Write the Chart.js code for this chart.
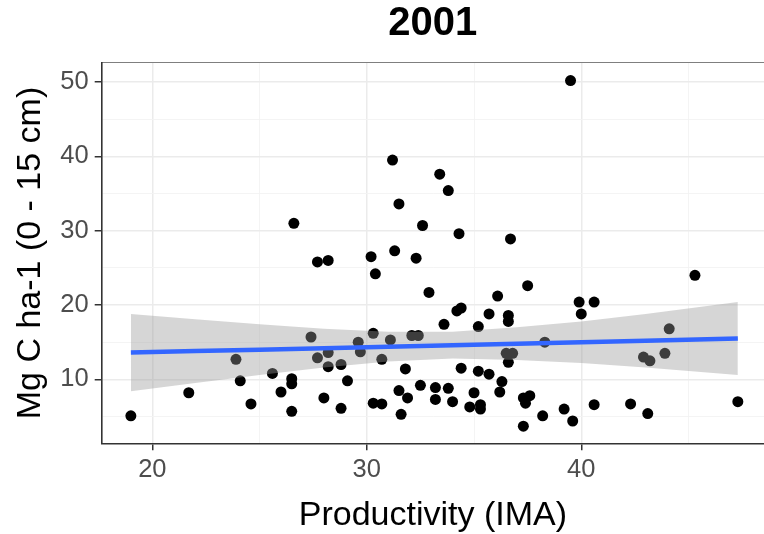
<!DOCTYPE html>
<html>
<head>
<meta charset="utf-8">
<script src="https://cdn.jsdelivr.net/npm/chart.js@4/dist/chart.umd.min.js"></script>
<style>
  html, body { margin: 0; padding: 0; background: #ffffff; }
  #wrap { width: 764px; height: 534px; }
</style>
</head>
<body>
<div id="wrap"><canvas id="chart" width="764" height="534"></canvas></div>
<script>
// Plots: productivity (IMA) vs soil carbon stock, 0-15 cm, year 2001
const productivity = [
  19.0, 21.7, 23.9, 24.1, 24.6, 25.6, 26.0, 26.5, 26.5, 26.5,
  26.6, 27.4, 27.7, 27.7, 28.0, 28.2, 28.2, 28.2, 28.8, 28.8,
  29.1, 29.6, 29.7, 30.2, 30.3, 30.3, 30.4, 30.7, 30.7, 31.1,
  31.2, 31.3, 31.5, 31.5, 31.6, 31.8, 31.9, 32.1, 32.3, 32.4,
  32.5, 32.6, 32.9, 33.2, 33.2, 33.4, 33.6, 33.8, 33.8, 34.0,
  34.2, 34.3, 34.4, 34.4, 34.8, 35.0, 35.2, 35.2, 35.3, 35.3,
  35.7, 35.7, 36.1, 36.2, 36.3, 36.5, 36.6, 36.6, 36.6, 36.7,
  36.8, 37.3, 37.3, 37.4, 37.5, 37.6, 38.2, 38.3, 39.2, 39.5,
  39.6, 39.9, 40.0, 40.6, 40.6, 42.3, 42.9, 43.1, 43.2, 43.9,
  44.1, 45.3, 47.3
];
const carbon = [
  5.1, 8.2, 12.7, 9.8, 6.7, 10.8, 8.3, 10.1, 9.4, 5.7,
  31.0, 15.7, 12.9, 25.8, 7.5, 26.0, 13.6, 11.7, 12.0, 6.1,
  9.8, 15.0, 13.7, 26.5, 16.2, 6.8, 24.2, 12.7, 6.7, 15.3,
  39.5, 27.3, 33.6, 8.5, 5.3, 11.4, 7.5, 15.9, 26.3, 15.9,
  9.2, 30.7, 21.7, 8.9, 7.3, 37.6, 17.4, 35.4, 8.8, 7.0,
  19.2, 29.6, 19.6, 11.5, 6.3, 8.2, 17.1, 11.1, 6.6, 6.0,
  18.8, 10.7, 21.2, 8.3, 9.7, 13.5, 18.6, 17.8, 12.3, 28.9,
  13.5, 7.5, 3.7, 6.8, 22.6, 7.8, 5.1, 15.0, 6.0, 50.2,
  4.4, 20.4, 18.8, 20.4, 6.6, 6.7, 13.0, 5.4, 12.5, 13.5,
  16.8, 24.0, 7.0
];

// Linear fit and its confidence band
const fitX      = [19.0, 22.0, 25.0, 28.0, 31.0, 34.0, 37.0, 40.0, 43.0, 47.3];
const fitY      = [13.6, 13.8, 14.0, 14.2, 14.4, 14.6, 14.8, 15.0, 15.2, 15.5];
const bandHigh  = [18.8, 18.1, 17.4, 16.8, 16.4, 16.4, 17.0, 17.8, 18.8, 20.4];
const bandLow   = [8.4, 9.5, 10.6, 11.6, 12.4, 12.8, 12.6, 12.2, 11.6, 10.6];

// Gridline positions (labels only on the major ones)
const xGrid = [20, 25, 30, 35, 40, 45];
const yGrid = [5, 10, 15, 20, 25, 30, 35, 40, 45, 50];

const FONT = "'Liberation Sans', Arial, sans-serif";
const isMajor = v => v % 10 === 0;
const pairs = (xs, ys) => xs.map((x, i) => ({ x: x, y: ys[i] }));

const gridStyle = {
  color: c => (c.tick && isMajor(c.tick.value)) ? '#ebebeb' : '#f3f3f3',
  lineWidth: c => (c.tick && isMajor(c.tick.value)) ? 1.5 : 0.9,
  tickColor: c => (c.tick && isMajor(c.tick.value)) ? '#333333' : 'rgba(0,0,0,0)',
  tickWidth: 1.5,
  tickLength: 7
};

// keep the plot panel flush with the canvas edges
const noSidePadding = s => { s.paddingLeft = 0; s.paddingRight = 0; };

new Chart(document.getElementById('chart'), {
  type: 'scatter',
  data: {
    datasets: [
      {
        label: 'fit',
        data: pairs(fitX, fitY),
        showLine: true,
        borderColor: '#3366FF',
        borderWidth: 4.5,
        pointRadius: 0,
        fill: false,
        order: 1
      },
      {
        label: 'band high',
        data: pairs(fitX, bandHigh),
        showLine: true,
        borderWidth: 0,
        borderColor: 'rgba(0,0,0,0)',
        pointRadius: 0,
        backgroundColor: 'rgba(153,153,153,0.4)',
        fill: '+1',
        order: 2
      },
      {
        label: 'band low',
        data: pairs(fitX, bandLow),
        showLine: true,
        borderWidth: 0,
        borderColor: 'rgba(0,0,0,0)',
        pointRadius: 0,
        fill: false,
        order: 2
      },
      {
        label: 'plots',
        data: pairs(productivity, carbon),
        pointRadius: 5.5,
        pointBackgroundColor: '#000000',
        pointBorderWidth: 0,
        pointBorderColor: '#000000',
        order: 3
      }
    ]
  },
  options: {
    responsive: false,
    animation: false,
    devicePixelRatio: 1,
    events: [],
    layout: { autoPadding: false, padding: { left: 0, right: 0, top: 0, bottom: 0 } },
    plugins: {
      legend: { display: false },
      tooltip: { enabled: false },
      title: { display: false }
    },
    scales: {
      x: {
        type: 'linear',
        position: 'bottom',
        min: 17.64,
        max: 48.52,
        afterBuildTicks: s => { s.ticks = xGrid.map(v => ({ value: v })); },
        afterFit: s => { s.height = 90.7; noSidePadding(s); },
        grid: gridStyle,
        border: { display: true, color: '#333333', width: 1.6 },
        ticks: {
          autoSkip: false,
          maxRotation: 0,
          padding: 4,
          color: '#4d4d4d',
          font: { family: FONT, size: 25.5 },
          callback: v => isMajor(v) ? String(v) : ''
        },
        title: {
          display: true,
          text: 'Productivity (IMA)',
          color: '#000000',
          font: { family: FONT, size: 34, lineHeight: 1.1 },
          padding: { top: 0, bottom: 0 }
        }
      },
      top: {
        type: 'linear',
        position: 'top',
        min: 17.64,
        max: 48.52,
        afterFit: s => { s.height = 62.7; noSidePadding(s); },
        grid: { display: false, drawOnChartArea: false, drawTicks: false },
        border: { display: true, color: '#7f7f7f', width: 1 },
        ticks: { display: false },
        title: {
          display: true,
          text: '2001',
          color: '#000000',
          font: { family: FONT, size: 40, weight: 'bold', lineHeight: 1.2 },
          padding: { top: 0, bottom: 0 }
        }
      },
      y: {
        type: 'linear',
        position: 'left',
        min: 1.4,
        max: 52.6,
        afterBuildTicks: s => { s.ticks = yGrid.map(v => ({ value: v })); },
        afterFit: s => { s.width = 101.7; },
        grid: gridStyle,
        border: { display: true, color: '#333333', width: 1.6 },
        ticks: {
          autoSkip: false,
          padding: 6,
          color: '#4d4d4d',
          font: { family: FONT, size: 25.5 },
          callback: v => isMajor(v) ? String(v) : ''
        },
        title: {
          display: true,
          text: 'Mg C ha-1 (0 - 15 cm)',
          color: '#000000',
          font: { family: FONT, size: 34, lineHeight: 1.2 },
          padding: { top: 10, bottom: 0 }
        }
      }
    }
  }
});
</script>
</body>
</html>
